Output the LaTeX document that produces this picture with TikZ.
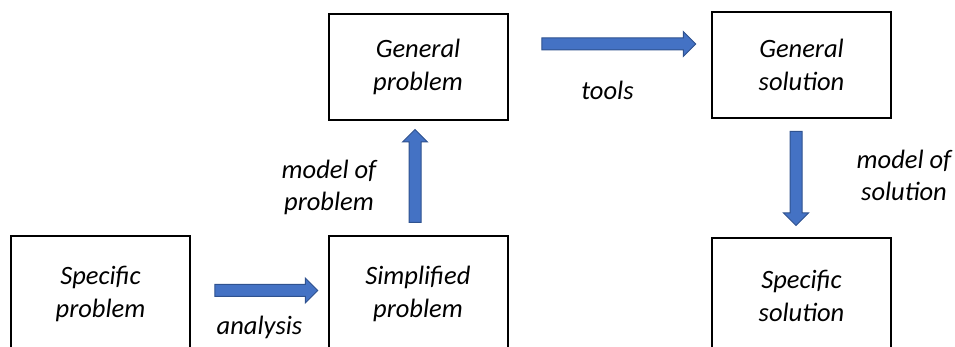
\documentclass[tikz,border=0pt]{standalone}
\usepackage{fontspec}
\setmainfont{Carlito}
\usepackage{tikz}
\usetikzlibrary{shapes.arrows, calc, positioning}

\definecolor{arrowblue}{HTML}{4472C4}
\definecolor{arrowedge}{HTML}{2F528F}

\tikzset{
	box/.style={draw, line width=2pt, minimum width=179pt, align=center, font=\fontsize{26.5}{33.5}\selectfont\itshape},
	blockarrow/.style={single arrow, draw=arrowedge, fill=arrowblue, line width=1pt, inner xsep=0pt, inner ysep=5.5pt, single arrow head extend=6.5pt, single arrow tip angle=90},
	lbl/.style={align=center, font=\fontsize{26.5}{32}\selectfont\itshape}
}

\begin{document}
\begin{tikzpicture}[x=1pt, y=1pt]
	\useasboundingbox (0,0) rectangle (955,347);
	\clip (0,0) rectangle (955,347);
	
	% Boxes
	\node[box, minimum height=106pt] (genp) at (418,280) {General\\problem};
	\node[box, minimum height=106pt] (gens) at (801.5,282) {General\\solution};
	\node[box, minimum height=116pt, anchor=north] (spec) at (100.5,112) {Specific\\problem};
	\node[box, minimum height=116pt, anchor=north] (simp) at (418,112) {Simplified\\problem};
	\node[box, minimum height=116pt, anchor=north] (specs) at (801.5,110) {Specific\\solution};
	
	% Arrows
	\node[blockarrow, minimum height=103pt] (analysis) at ($(spec.east)!0.5!(simp.west)+(4,3.5)$) {};
	\node[blockarrow, minimum height=154pt] (tools) at ($(genp.east)!0.5!(gens.west)+(6,22)$) {};
	\node[blockarrow, minimum height=93pt, rotate=90] (modp) at ($(simp.north)!0.5!(genp.south)+(-3,-1)$) {};
	\node[blockarrow, minimum height=94pt, rotate=-90] (mods) at ($(gens.south)!0.5!(specs.north)+(-5.5,2.5)$) {};
	
	% Labels
	\node[lbl, anchor=base] (lanalysis) at (259.5,12) {analysis};
	\node[lbl, anchor=base] (ltools) at (607.5,247) {tools};
	\node[lbl] (lmodp) at (329,160) {model of\\problem};
	\node[lbl] (lmods) at (904,172) {model of\\solution};
\end{tikzpicture}
\end{document}
